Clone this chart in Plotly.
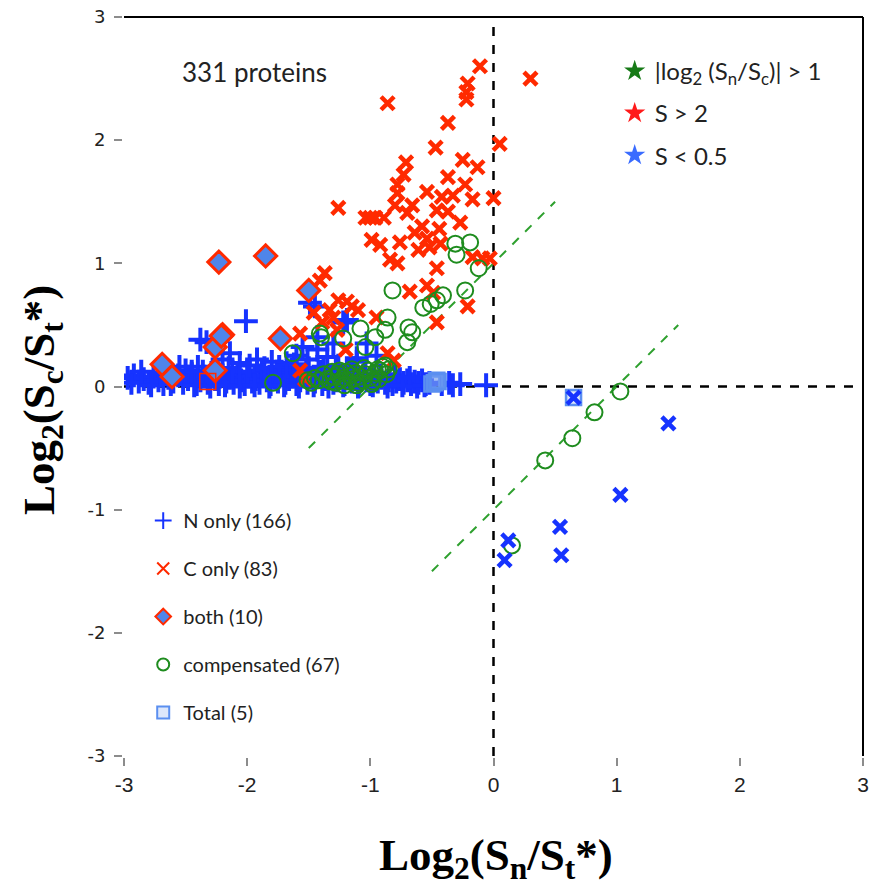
import plotly.graph_objects as go

# ---------------- data ----------------
# N only (blue +)
n_x = [-2.97, -2.92, -2.88, -2.84, -2.80, -2.76, -2.72, -2.68, -2.64, -2.60, -2.56, -2.52,
       -2.48, -2.45, -2.41, -2.38, -2.35, -2.32, -2.29, -2.26, -2.23, -2.20, -2.17, -2.14,
       -2.11, -2.08, -2.05, -2.02, -1.99, -1.96, -1.93, -1.90, -1.87, -1.84, -1.81, -1.78,
       -1.75, -1.72, -1.69, -1.66, -1.63, -1.60, -1.57, -1.54, -1.51, -1.48, -1.45, -1.42,
       -1.39, -1.36, -1.33, -1.30, -1.27, -1.24, -1.21, -1.18, -1.15, -1.12, -1.09, -1.06,
       -1.03, -1.00, -0.97, -0.94, -0.91, -0.88, -0.85, -0.82, -0.79, -0.76, -0.73, -0.70,
       -0.67, -0.64, -0.61, -0.58, -0.55, -0.52, -0.42, -0.36, -0.33, -0.27, -0.06,
       -2.94, -2.86, -2.78, -2.70, -2.62, -2.50, -2.43, -2.36, -2.30, -2.24, -2.18, -2.12,
       -2.06, -2.00, -1.94, -1.88, -1.82, -1.76, -1.70, -1.64, -1.58, -1.52, -1.46, -1.40,
       -1.34, -1.28, -1.22, -1.16, -1.10, -1.04, -0.98, -0.92, -0.86, -0.80, -0.74, -0.68,
       -0.62, -0.56, -2.40, -2.15, -1.98, -1.86, -1.74, -1.62, -1.50, -1.38, -1.26, -1.14,
       -2.01, -2.38, -2.33, -2.14, -2.06, -1.68, -1.49, -1.45, -1.43, -1.43, -1.55, -1.22,
       -1.19, -1.11, -1.03, -1.11, -1.51, -1.60, -2.20, -2.45, -1.30, -0.95, -1.80, -1.92,
       -2.55, -1.35]
n_y = [0.07, 0.09, 0.04, 0.06, 0.03, 0.08, 0.05, 0.02, 0.07, 0.04, 0.09, 0.03,
       0.06, 0.10, 0.02, 0.05, 0.08, 0.03, 0.11, 0.06, 0.02, 0.09, 0.04, 0.07,
       0.03, 0.10, 0.05, 0.02, 0.08, 0.04, 0.06, 0.03, 0.09, 0.05, 0.02, 0.07,
       0.04, 0.10, 0.03, 0.06, 0.08, 0.02, 0.05, 0.09, 0.03, 0.07, 0.04, 0.11,
       0.02, 0.06, 0.08, 0.03, 0.05, 0.09, 0.02, 0.07, 0.04, 0.06, 0.03, 0.08,
       0.05, 0.02, 0.06, 0.04, 0.07, 0.03, 0.05, 0.02, 0.04, 0.06, 0.03, 0.05,
       0.02, 0.04, 0.03, 0.05, 0.02, 0.03, 0.02, 0.03, 0.01, 0.02, 0.01,
       0.03, 0.12, 0.01, 0.11, 0.02, 0.13, 0.01, 0.12, 0.00, 0.13, 0.01, 0.12,
       0.00, 0.12, 0.01, 0.13, 0.00, 0.12, 0.01, 0.14, 0.00, 0.13, 0.01, 0.12,
       0.00, 0.13, 0.01, 0.11, 0.00, 0.10, 0.01, 0.09, 0.00, 0.08, 0.01, 0.07,
       0.00, 0.01, 0.16, 0.15, 0.17, 0.15, 0.16, 0.18, 0.15, 0.16, 0.17, 0.15,
       0.53, 0.38, 0.36, 0.27, 0.19, 0.19, 0.68, 0.65, 0.40, 0.30, 0.32, 0.52,
       0.54, 0.23, 0.35, 0.20, 0.22, 0.25, 0.22, 0.12, 0.35, 0.25, 0.20, 0.22,
       0.16, 0.24]

# C only (red x)
c_x = [-0.11, -0.21, -0.22, -0.22, -0.86, 0.30, -0.37, 0.05, -0.47, -0.71, -0.25, -0.13,
       -0.73, -0.37, -0.78, -0.23, -0.54, -0.78, -0.42, -0.33, -0.17, 0.00, -0.80, -0.66,
       -0.46, -0.37, -1.26, -1.04, -0.96, -0.89, -0.70, -0.27, -0.99, -0.76, -0.64, -0.54,
       -0.61, -0.52, -0.43, -0.84, -0.78, -0.46, -0.03, -0.17, -0.09, -1.37, -1.41, -0.68,
       -0.54, -0.49, -0.21, -1.26, -1.19, -1.15, -1.46, -1.30, -1.39, -0.95, -0.46, -1.57,
       -1.27, -0.86, -0.81, -1.57, -1.53, -1.20, -1.00, -0.58, -0.44, -0.92, -1.33, -1.10]
c_y = [2.60, 2.46, 2.39, 2.33, 2.30, 2.50, 2.14, 1.97, 1.94, 1.82, 1.84, 1.78,
       1.72, 1.70, 1.64, 1.64, 1.58, 1.57, 1.54, 1.55, 1.52, 1.53, 1.47, 1.47,
       1.43, 1.42, 1.45, 1.37, 1.37, 1.37, 1.41, 1.33, 1.19, 1.17, 1.25, 1.20,
       1.11, 1.13, 1.16, 1.03, 1.00, 0.96, 1.04, 1.05, 1.04, 0.92, 0.86, 0.77,
       0.82, 0.76, 0.65, 0.70, 0.69, 0.65, 0.60, 0.56, 0.52, 0.56, 0.52, 0.43,
       0.46, 0.27, 0.21, 0.13, 0.06, 0.30, 1.37, 1.30, 1.28, 1.15, 0.62, 0.62]

# both (diamonds)
b_x = [-2.23, -1.85, -2.20, -2.26, -2.69, -2.61, -2.26, -1.73, -1.50, -2.21]
b_y = [1.01, 1.06, 0.42, 0.32, 0.18, 0.08, 0.13, 0.39, 0.78, 0.41]

# compensated (open circles)
g_x = [-0.19, -0.31, -0.30, -0.12, -0.23, -0.41, -0.46, -0.51, -0.57, -0.82, -0.86, -1.08,
       -0.69, -1.41, -1.40, -1.22, -1.04, -0.96, -0.88, -0.66, -0.70, -1.63, -1.79, -1.51,
       -1.48, -1.45, 1.03, 0.82, 0.64, 0.42, 0.15,
       -1.35, -1.32, -1.30, -1.28, -1.26, -1.24, -1.22, -1.20, -1.18, -1.16, -1.14, -1.12,
       -1.10, -1.08, -1.06, -1.04, -1.02, -1.00, -0.98, -0.96, -0.94, -0.92, -0.90, -0.88,
       -0.87, -1.25, -1.15, -1.05, -1.38, -1.42, -0.99, -1.11, -1.21, -0.93, -0.85, -1.31]
g_y = [1.17, 1.16, 1.07, 0.96, 0.78, 0.74, 0.70, 0.67, 0.64, 0.78, 0.56, 0.47,
       0.48, 0.43, 0.40, 0.39, 0.32, 0.40, 0.46, 0.44, 0.36, 0.27, 0.03, 0.05,
       0.03, 0.07, -0.04, -0.21, -0.42, -0.60, -1.29,
       0.06, 0.04, 0.08, 0.03, 0.10, 0.05, 0.07, 0.12, 0.04, 0.09, 0.06, 0.11,
       0.03, 0.08, 0.05, 0.10, 0.13, 0.07, 0.04, 0.11, 0.14, 0.13, 0.16, 0.17,
       0.10, 0.13, 0.14, 0.15, 0.10, 0.05, 0.02, 0.01, 0.01, 0.06, 0.14, 0.12]

# Total (squares)
t_x = [-0.50, -0.48, -0.46, -0.45, 0.65]
t_y = [0.02, 0.03, 0.05, 0.04, -0.09]
t2_x = [-2.32]          # red-edged square
t2_y = [0.04]

# blue x (lower right region)
bx_x = [1.42, 1.03, 0.54, 0.55, 0.09, 0.12, 0.65]
bx_y = [-0.30, -0.88, -1.14, -1.37, -1.41, -1.25, -0.09]

# reference lines
ref_hi_x = [-1.5, 0.5]
ref_hi_y = [-0.5, 1.5]
ref_lo_x = [-0.5, 1.5]
ref_lo_y = [-1.5, 0.5]

ticks = [-3, -2, -1, 0, 1, 2, 3]

# ---------------- styling ----------------
BLUE = "#1633ff"
RED = "#ff2a00"
GREEN = "#1e8c1e"
LBLUE = "#5b8ff0"
DFILL = "#4f85ea"

# plot area spans page px 124..863 x 17..756 (body margin removed below)
PL, PT = 124, 17
W = 739.0

fig = go.Figure()

for xs, ys in ((ref_hi_x, ref_hi_y), (ref_lo_x, ref_lo_y)):
    fig.add_trace(go.Scatter(x=xs, y=ys, mode="lines", showlegend=False,
                             line=dict(color="#2ea02e", width=2, dash="dash"),
                             hoverinfo="skip", zorder=0))

fig.add_trace(go.Scatter(x=n_x, y=n_y, mode="markers", name="N only (166)",
                         legendgroup="a", legendrank=1, zorder=1,
                         marker=dict(symbol="cross-thin", size=17,
                                     line=dict(color=BLUE, width=4), color=BLUE)))
fig.add_trace(go.Scatter(x=c_x, y=c_y, mode="markers", name="C only (83)",
                         legendgroup="b", legendrank=2, zorder=2,
                         marker=dict(symbol="x-thin", size=13,
                                     line=dict(color=RED, width=4.5), color=RED)))
fig.add_trace(go.Scatter(x=b_x, y=b_y, mode="markers", name="both (10)",
                         legendgroup="c", legendrank=3, zorder=4,
                         marker=dict(symbol="diamond", size=17, color=DFILL,
                                     line=dict(color=RED, width=3))))
fig.add_trace(go.Scatter(x=g_x, y=g_y, mode="markers", name="compensated (67)",
                         legendgroup="d", legendrank=4, zorder=3,
                         marker=dict(symbol="circle-open", size=16,
                                     line=dict(color=GREEN, width=2), color=GREEN)))
fig.add_trace(go.Scatter(x=t_x, y=t_y, mode="markers", name="Total (5)",
                         legendgroup="e", legendrank=5, zorder=5,
                         marker=dict(symbol="square", size=15, color="rgba(120,160,240,0.25)",
                                     line=dict(color=LBLUE, width=2.5))))
fig.add_trace(go.Scatter(x=t2_x, y=t2_y, mode="markers", showlegend=False, zorder=5,
                         marker=dict(symbol="square-open", size=16,
                                     line=dict(color=RED, width=1.5), color=RED)))
fig.add_trace(go.Scatter(x=bx_x, y=bx_y, mode="markers", showlegend=False, zorder=6,
                         marker=dict(symbol="x-thin", size=13,
                                     line=dict(color=BLUE, width=4.5), color=BLUE)))

star_items = [("|log<sub>2</sub> (S<sub>n</sub>/S<sub>c</sub>)| > 1", "#177a17", "s1"),
              ("S > 2", "#ff1a1a", "s2"),
              ("S < 0.5", "#3a6cff", "s3")]
for i, (lab, col, grp) in enumerate(star_items):
    fig.add_trace(go.Scatter(x=[None], y=[None], mode="markers", name=lab,
                             legend="legend2", legendgroup=grp, legendrank=10 + i,
                             marker=dict(symbol="star", size=17, color=col)))

shapes = [
    dict(type="line", xref="x", yref="paper", x0=0, x1=0, y0=0, y1=1,
         line=dict(color="black", width=2.5, dash="dash"), layer="below"),
    dict(type="line", xref="paper", yref="y", x0=0, x1=1, y0=0, y1=0,
         line=dict(color="black", width=2.5, dash="dash"), layer="below"),
    dict(type="line", xref="paper", yref="paper", x0=0, x1=1, y0=1, y1=1,
         line=dict(color="black", width=2)),
    dict(type="line", xref="paper", yref="paper", x0=1, x1=1, y0=0, y1=1,
         line=dict(color="black", width=2)),
]

fig.update_layout(
    width=870, height=887,
    margin=dict(l=124, r=7, t=17, b=131, autoexpand=False),
    plot_bgcolor="white", paper_bgcolor="white",
    shapes=shapes,
    showlegend=True,
    legend=dict(x=0.026, y=0.345, xanchor="left", yanchor="top",
                font=dict(family="Lato", size=20, color="#222"),
                traceorder="grouped", tracegroupgap=19, bgcolor="rgba(0,0,0,0)",
                itemsizing="constant"),
    legend2=dict(x=0.664, y=0.957, xanchor="left", yanchor="top",
                 font=dict(family="Lato", size=24, color="#222"),
                 traceorder="grouped", tracegroupgap=8, bgcolor="rgba(0,0,0,0)"),
    xaxis=dict(range=[-3, 3], tickvals=ticks, ticktext=[str(t) for t in ticks],
               showgrid=False, zeroline=False, showline=True, linecolor="#8c8c8c",
               linewidth=2, ticks="outside", ticklen=8, tickwidth=1.5, tickcolor="#8c8c8c",
               ticklabelstandoff=1, ticklabeloverflow="allow",
               tickfont=dict(family="Liberation Sans Narrow, Liberation Sans", size=21, color="#222")),
    yaxis=dict(range=[-3, 3], tickvals=ticks, ticktext=[str(t) for t in ticks],
               showgrid=False, zeroline=False, showline=True, linecolor="#8c8c8c",
               linewidth=2, ticks="outside", ticklen=8, tickwidth=1.5, tickcolor="#8c8c8c",
               ticklabelstandoff=5, ticklabeloverflow="allow",
               tickfont=dict(family="DejaVu Sans", size=18, color="#222")),
    annotations=[
        dict(text="331 proteins", x=(180 - PL) / W, y=(756 - 72) / W,
             xref="paper", yref="paper", xanchor="left", yanchor="middle",
             showarrow=False, font=dict(family="Lato", size=26, color="#222")),
        dict(text="<b>Log<sub>2</sub>(S<sub>n</sub>/S<sub>t</sub>*)</b>",
             x=(496 - PL) / W, y=-(858 - 756) / W, xref="paper", yref="paper",
             xanchor="center", yanchor="middle", showarrow=False,
             font=dict(family="Liberation Serif", size=45, color="black")),
        dict(text="<b>Log<sub>2</sub>(S<sub>c</sub>/S<sub>t</sub>*)</b>",
             x=-(PL - 42) / W, y=(756 - 400) / W, xref="paper", yref="paper",
             xanchor="center", yanchor="middle", showarrow=False, textangle=-90,
             font=dict(family="Liberation Serif", size=45, color="black")),
    ],
)

fig.write_html(
    "out.html",
    config={"displayModeBar": False},
    post_script="document.body.style.margin='0';document.body.style.overflow='hidden';",
)
